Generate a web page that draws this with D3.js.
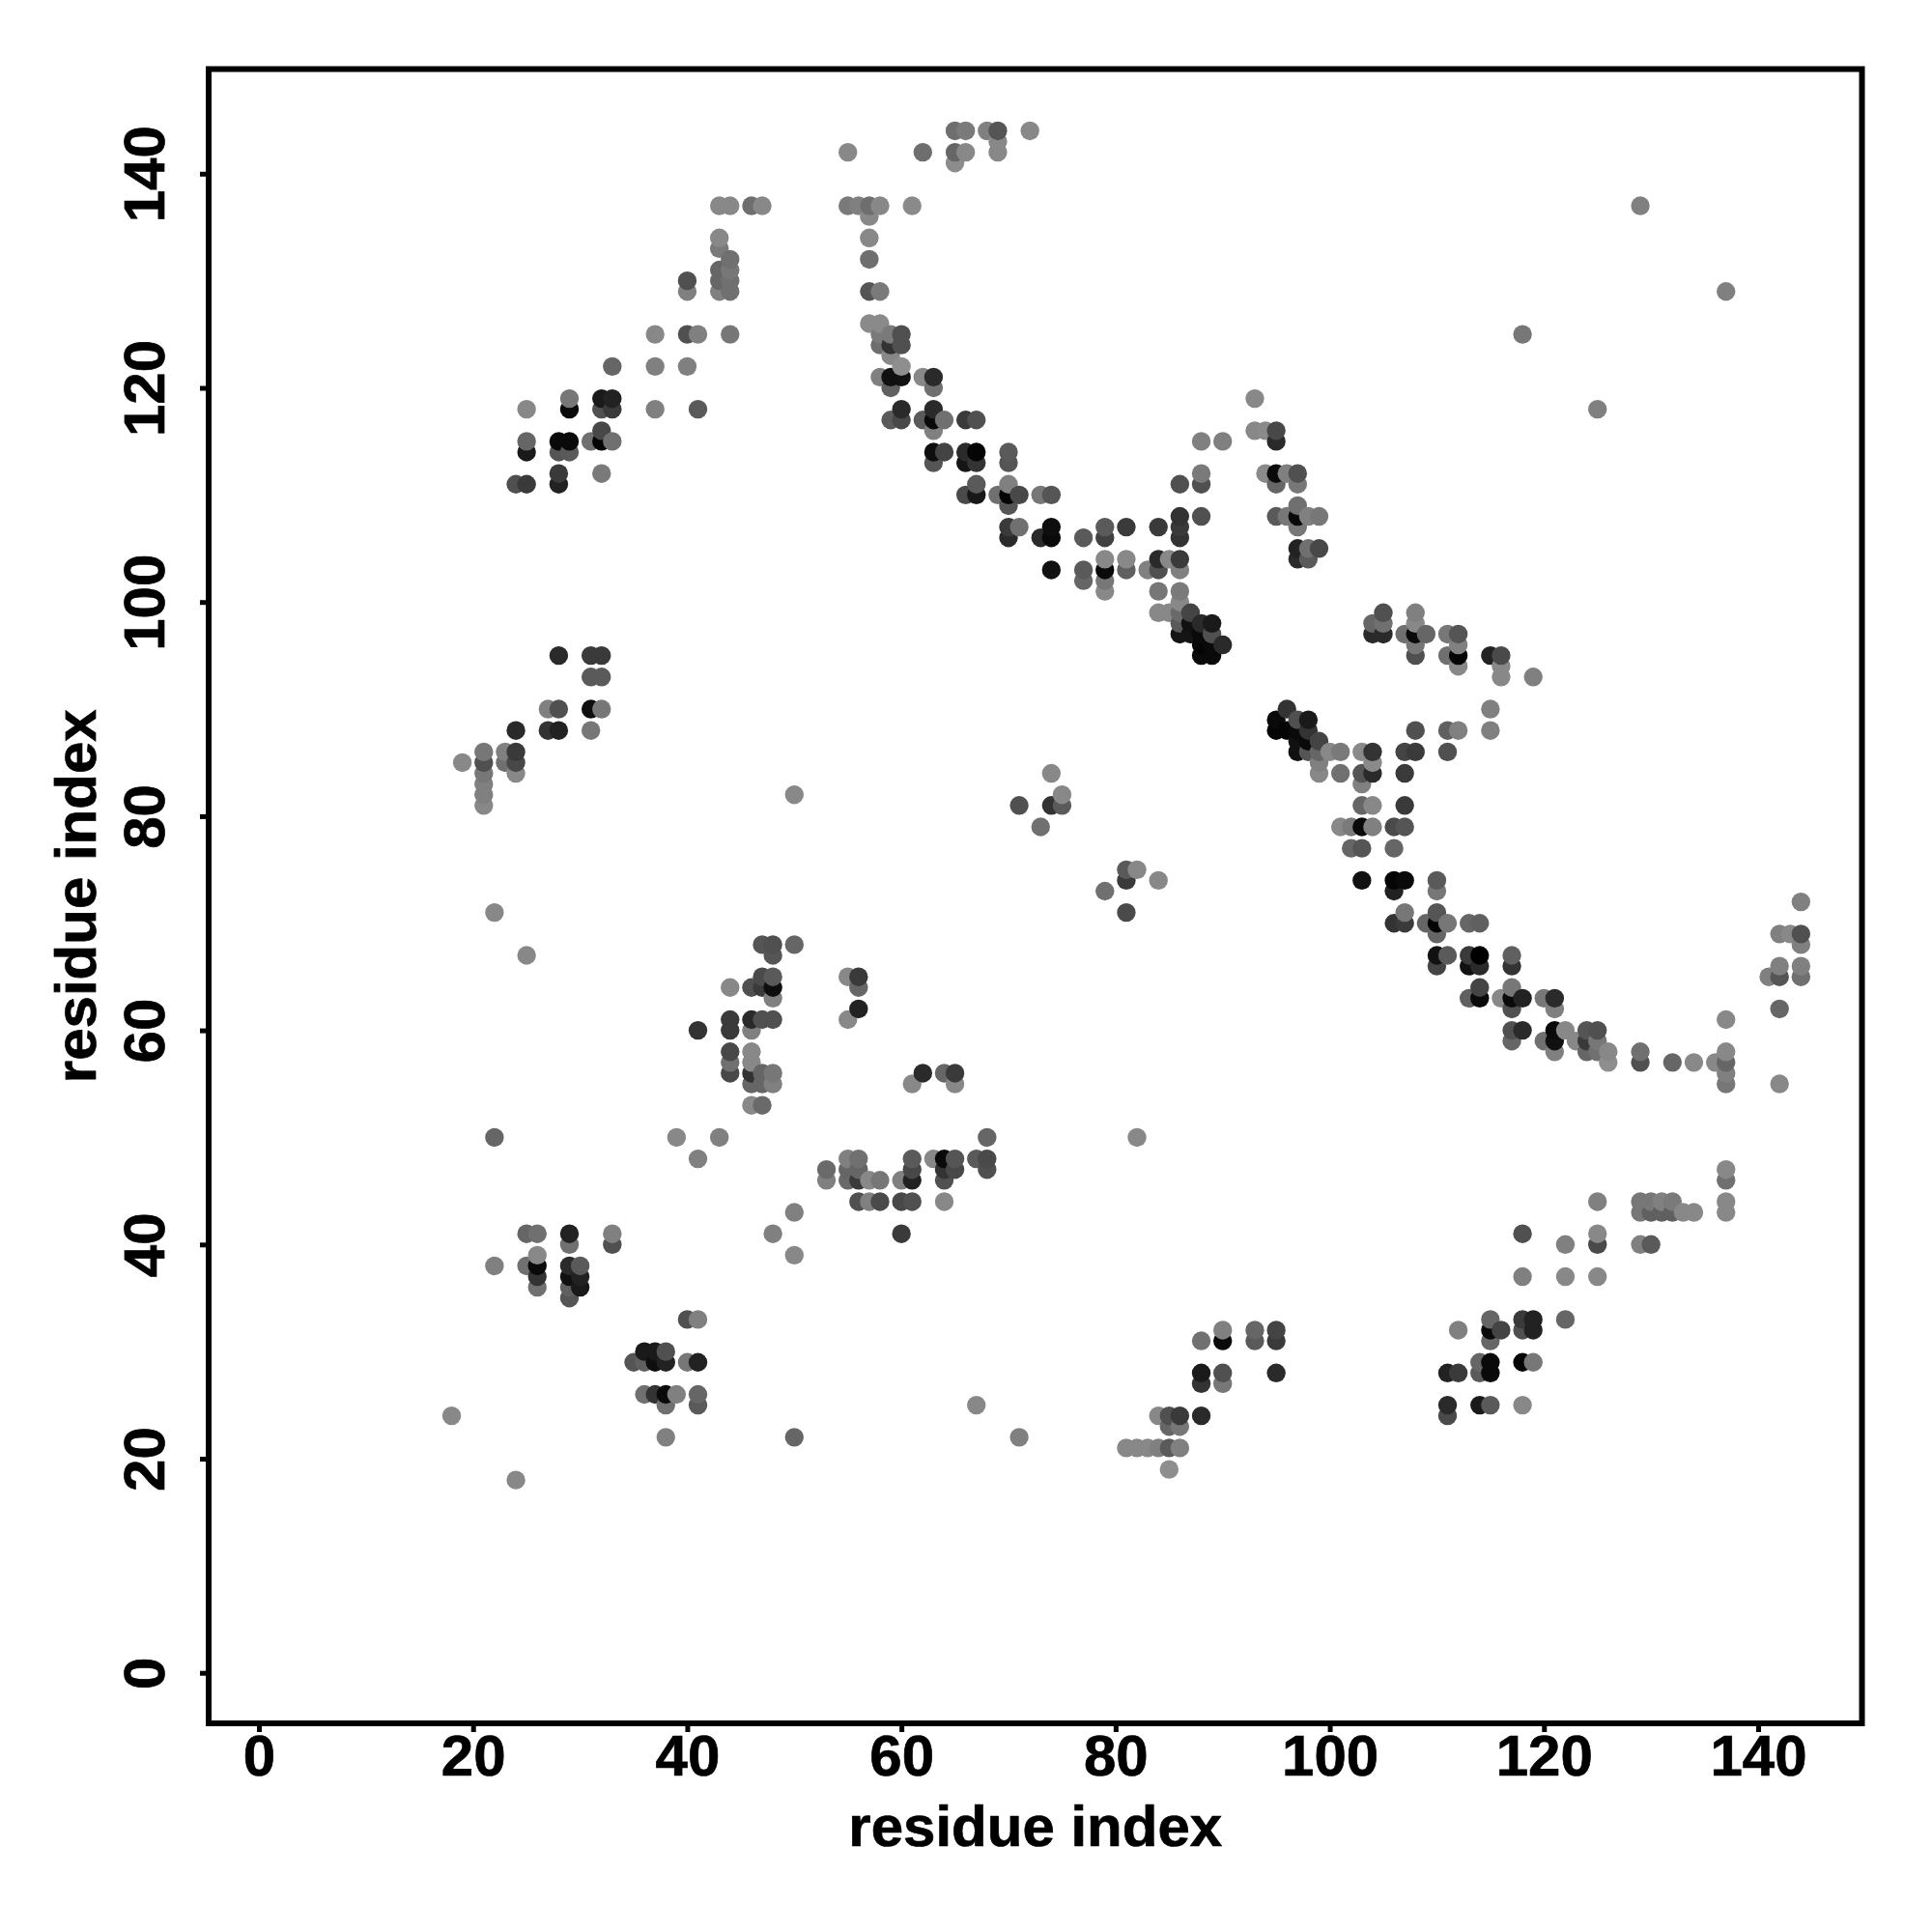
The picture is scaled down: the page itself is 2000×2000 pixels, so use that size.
<!DOCTYPE html>
<html>
<head>
<meta charset="utf-8">
<script src="https://cdn.jsdelivr.net/npm/d3@7"></script>
<style>
html,body{margin:0;padding:0;background:#fff}
svg{display:block}
text{font-family:"Liberation Sans",Arial,sans-serif;font-weight:bold;fill:#000;stroke:#000;stroke-width:0.7px}
</style>
</head>
<body>
<svg id="chart" width="2000" height="2000"></svg>
<script>
const xTicks=[0,20,40,60,80,100,120,140];
const yTicks=[0,20,40,60,80,100,120,140];
const xLabel="residue index";
const yLabel="residue index";
const rowY=[144,143,142,141,137,136,134,133,132,131,130,129,126,125,124,123,122,121,120,119,118,117,116,115,114,113,112,111,110,109,108,107,106,105,104,103,102,101,100,99,98,97,96,95,94,93,90,89,88,87,86,85,84,83,82,81,79,77,75,74,73,72,71,70,69,68,67,66,65,64,63,62,61,60,59,58,57,56,55,53,50,48,47,46,44,43,41,40,39,38,37,36,35,33,32,31,30,29,28,27,26,25,24,23,22,21,19,18];
const rowX=[
[65,66,68,69,72],
[69],
[55,62,65,66,69],
[65],
[43,44,46,47,55,56,57,58,61,129],
[57],
[43,57],
[43],
[44,57],
[43,44],
[40,43,44],
[40,43,44,57,58,137],
[57,58],
[37,40,41,44,58,59,60,118],
[58,59,60],
[59],
[33,37,40,60],
[58,59,60,62,63],
[59,63],
[29,32,33,93],
[25,29,32,33,37,41,60,63,125],
[59,60,62,63,64,66,67],
[32,63,93,94,95],
[25,28,29,31,32,33,88,90,95],
[25,28,29,63,64,66,67,70],
[63,66,67,70],
[28,32,88,94,95,96,97],
[24,25,28,67,70,86,88,95,97],
[66,67,69,70,71,73,74],
[70,97],
[86,88,95,96,97,98,99],
[70,71,74,79,81,84,86,97],
[70,73,74,77,79,86],
[97,98,99],
[79,81,84,85,86,97,98],
[74,77,79,81,83,84,86],
[77,79],
[79,84,86],
[86],
[84,85,86,87,105,108],
[86,87,88,89,104,105,108],
[86,87,88,89,104,105,107,108,109,111,112],
[88,89,90,108,112],
[28,31,32,88,89,108,111,112,115,116],
[112,116],
[31,32,116,119],
[27,28,31,32,96,115],
[95,97,98],
[24,27,28,31,95,96,97,98,108,111,112,115],
[97,98,99],
[21,23,24,97,98,99,100,101,103,104,107,108,111],
[19,21,23,24,99,104],
[21,24,74,99,101,103,104,107],
[21,103],
[21,50,75],
[21,71,74,75,103,104,107],
[73,101,102,103,104,106,107],
[102,103,106],
[81,82],
[81,84,103,106,107,110],
[79,106,110],
[144],
[22,81,107,110],
[106,107,109,110,111,113,114],
[110,142,143,144],
[47,48,50,144],
[25,48,110,111,113,114,117],
[110,113,114,117,142,144],
[47,48,55,56,141,142,144],
[44,46,47,48,56,114,117],
[48,113,114,116,117,118,120,121],
[56,117,121,142],
[44,46,47,48,55,137],
[41,44,46,117,118,121,122,124,125],
[117,120,121,123,124,125],
[44,46,121,124,125,126,129,137],
[44,46,126,129,132,134,136,137],
[44,46,47,48,62,64,65,137],
[46,47,48,61,65,137,142],
[46,47],
[22,39,43,68,82],
[41,55,56,61,63,64,65,67,68],
[53,55,56,61,64,65,68,137],
[53,55,56,57,58,60,61,64,137],
[56,57,58,60,61,64,125,129,130,131,132,137],
[50,129,130,131,132,133,134,137],
[25,26,29,33,48,60,118,125],
[29,33,122,125,129,130],
[26,50],
[22,25,26,29,30],
[26,29,30,118,122,125],
[26,29,30],
[29],
[40,41,115,118,119,122],
[90,93,95,112,115,116,118,119],
[88,90,93,95,115],
[36,37,38],
[35,36,37,38,40,41,114,115,118,119],
[88,90,95,111,112,114,115],
[88,90],
[36,37,38,39,41],
[38,41,67,111,114,115,118],
[18,84,85,86,88,111],
[85,86],
[38,50,71],
[81,82,83,84,85,86],
[85],
[24]
];
const rowShade=[
[110,122,128,85,136],
[136],
[136,110,102,136,136],
[140],
[136,136,110,136,122,128,110,136,138,128],
[136],
[136,136],
[122],
[112,110],
[102,119],
[80,102,112],
[128,128,112,85,122,128],
[138,138],
[136,80,128,119,122,122,80,119],
[110,51,80],
[136],
[102,128,128,142],
[128,17,17,136,42],
[96,112],
[119,26,34,136],
[136,10,80,58,128,90,42,42,128],
[90,72,90,10,112,58,80],
[72,128,136,138,72],
[102,10,10,112,5,112,128,128,42],
[26,85,90,14,68,42,5,90],
[85,21,51,85],
[58,122,122,138,10,128,80],
[80,58,34,90,128,80,80,102,119],
[74,24,112,5,72,119,85],
[85,112],
[51,80,90,119,10,128,119],
[58,112,14,90,58,58,58,119],
[42,42,10,90,64,51],
[34,112,72],
[136,136,42,136,58,42,90],
[17,90,10,96,128,80,128],
[102,119],
[136,119,122],
[136],
[136,136,106,68,80,128],
[90,17,42,26,102,112,136],
[21,21,10,80,42,42,112,10,102,119,85],
[5,10,42,119,128],
[42,58,58,10,10,80,112,5,34,74],
[136,136],
[90,90,136,128],
[128,80,14,119,51,128],
[10,80,26],
[42,51,34,119,5,5,10,51,80,96,128,128],
[17,10,68],
[119,128,58,17,85,102,136,122,138,51,68,58,80],
[136,80,112,72,128,138],
[119,136,136,136,112,85,42,58],
[128,128],
[128,136,136],
[136,80,51,90,102,136,58],
[112,136,122,10,128,74,85],
[102,85,102],
[90,136],
[58,136,17,5,10,90],
[112,34,119],
[128],
[136,74,119,85],
[51,58,102,5,119,102,96],
[102,128,136,80],
[85,80,102,128],
[136,85,17,90,58,0,96],
[68,17,42,51,128,128],
[74,90,136,58,128,85,112],
[136,80,58,14,102,68,119],
[128,96,10,136,10,34,119,42],
[34,80,128,102],
[58,42,80,80,136,136],
[51,58,128,80,42,10,136,85,80],
[102,112,17,136,58,119],
[72,136,128,102,112,136,112,136],
[112,136,142,80,102,136,136,102],
[72,51,102,119,42,102,58,128],
[102,102,128,136,136,119,136],
[136,106],
[102,136,128,102,136],
[128,128,112,90,136,10,85,90,74],
[106,102,102,72,51,72,80,136],
[128,106,58,136,119,128,34,80,112],
[80,128,74,72,80,136,128,119,119,128,122,136],
[128,119,96,96,96,136,136,136],
[102,112,34,128,128,58,80,136],
[112,80,128,74,128,90],
[136,136],
[128,112,10,42,90],
[51,17,34,128,136,136],
[112,96,26],
[85],
[80,128,102,58,34,102],
[128,102,68,128,10,68,80,34],
[112,10,90,58,102],
[26,26,80],
[85,96,14,34,119,34,102,10,5,119],
[26,80,42,34,58,90,10],
[51,119],
[112,51,10,128,102],
[112,90,136,42,26,90,136],
[136,136,80,58,42,74],
[102,119],
[128,102,128],
[136,136,136,128,90,128],
[142],
[136]
];

const contacts=rowY.flatMap((y,i)=>rowX[i].map((x,j)=>({x,y,shade:rowShade[i][j]})))
  .sort((a,b)=>d3.ascending(a.x,b.x)||d3.ascending(a.y,b.y));

const svg=d3.select("#chart");
const frame={left:216,right:1927.5,top:71.5,bottom:1784};
const x=d3.scaleLinear().domain([0,140]).range([268,1820]);
const y=d3.scaleLinear().domain([0,140]).range([1731.7,179.8]);

svg.append("g").selectAll("circle").data(contacts).join("circle")
  .attr("cx",d=>x(d.x)).attr("cy",d=>y(d.y)).attr("r",9.7)
  .attr("fill",d=>d3.rgb(d.shade,d.shade,d.shade));

svg.append("rect").attr("x",frame.left).attr("y",frame.top)
  .attr("width",frame.right-frame.left).attr("height",frame.bottom-frame.top)
  .attr("fill","none").attr("stroke","#000").attr("stroke-width",6);

const gx=svg.append("g").attr("transform",`translate(0,${frame.bottom})`)
  .call(d3.axisBottom(x).tickValues(xTicks).tickSizeOuter(0).tickSize(9).tickFormat(d3.format("d")));
gx.select(".domain").remove();
gx.selectAll("line").attr("stroke","#000").attr("stroke-width",5);
gx.selectAll("text").attr("y",54).attr("dy",null).attr("font-size",60).style("font-size","60px").style("font-family",'"Liberation Sans"').style("font-weight","bold");

const gy=svg.append("g").attr("transform",`translate(${frame.left},0)`)
  .call(d3.axisLeft(y).tickValues(yTicks).tickSizeOuter(0).tickSize(9).tickFormat(d3.format("d")));
gy.select(".domain").remove();
gy.selectAll("line").attr("stroke","#000").attr("stroke-width",5);
gy.selectAll("text").attr("x",null).attr("y",null).attr("dy",null)
  .attr("text-anchor","middle").attr("transform","translate(-46,0) rotate(-90)")
  .style("font-size","60px").style("font-family",'"Liberation Sans"').style("font-weight","bold");

svg.append("text").attr("x",(frame.left+frame.right)/2).attr("y",1911)
  .attr("text-anchor","middle").style("font-size","60px").text(xLabel);
svg.append("text").attr("transform",`translate(99,${(frame.top+frame.bottom)/2}) rotate(-90)`)
  .attr("text-anchor","middle").style("font-size","60px").text(yLabel);
</script>
</body>
</html>
